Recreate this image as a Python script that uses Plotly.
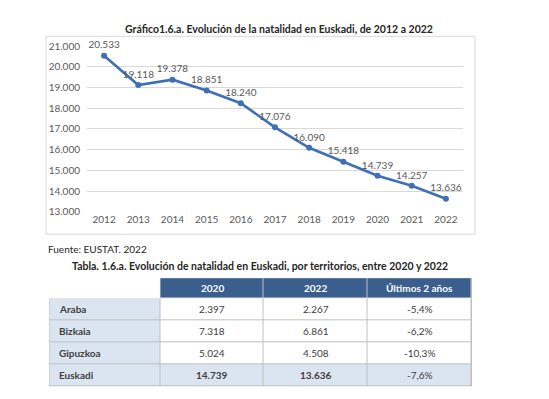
import plotly.graph_objects as go

years = [str(y) for y in range(2012, 2023)]
births = [20533, 19118, 19378, 18851, 18240, 17076, 16090, 15418, 14739, 14257, 13636]

territories = ["Araba", "Bizkaia", "Gipuzkoa", "Euskadi"]
births_2020 = [2397, 7318, 5024, 14739]
births_2022 = [2267, 6861, 4508, 13636]
change_2y = ["-5,4%", "-6,2%", "-10,3%", "-7,6%"]
table_header = ["", "2020", "2022", "Últimos 2 años"]

W, H = 549, 399
FONT = "Lato"
LINE = "#4070b4"
GRAY = "#595959"
LIGHT = "#dbe5f1"
DARK = "#3a5f8e"
BORDER = "#bfbfbf"

# table geometry (pixels)
COL_W = [111, 104, 104, 104]
HEAD_H = 21
ROW_H = 22.75
TAB_X0, TAB_Y0 = 41, 272


def px_x(p):
    return p / W


def px_y(p):
    return 1 - p / H


def fmt(v):
    return f"{v:,}".replace(",", ".")


fig = go.Figure()

fig.add_trace(go.Scatter(
    x=years, y=births, mode="lines+markers+text",
    line=dict(color=LINE, width=2.6),
    marker=dict(color=LINE, size=6),
    texttemplate="%{y:,d}", textposition="top center",
    textfont=dict(family=FONT, size=10, color=GRAY),
    cliponaxis=False, showlegend=False, hoverinfo="skip",
))

# ---- table built as a heatmap on its own axes ----
n = len(territories)
x_edges = [0]
for w in COL_W:
    x_edges.append(x_edges[-1] + w)
y_edges = [0, HEAD_H]
for _ in range(n):
    y_edges.append(y_edges[-1] + ROW_H)
tab_w, tab_h = x_edges[-1], y_edges[-1]

# colour codes: 0 white, 1 light blue, 2 dark blue
z = [[0, 2, 2, 2]]
for i in range(n):
    last = i == n - 1
    z.append([1, 1 if last else 0, 1 if last else 0, 1 if last else 0])

fig.add_trace(go.Heatmap(
    x=x_edges, y=y_edges, z=z, xaxis="x2", yaxis="y2",
    colorscale=[[0, "white"], [0.5, LIGHT], [1, DARK]], zmin=0, zmax=2,
    showscale=False, xgap=1, ygap=1, hoverinfo="skip",
))

# grey borders behind the cells (visible through the gaps)
fig.add_shape(type="rect", xref="x2", yref="y2", layer="below",
              x0=x_edges[0] - 0.5, x1=x_edges[-1] + 0.5, y0=y_edges[1], y1=y_edges[-1] + 0.5,
              fillcolor=BORDER, line=dict(width=0))
fig.add_shape(type="rect", xref="x2", yref="y2", layer="below",
              x0=x_edges[1], x1=x_edges[-1] + 0.5, y0=y_edges[0] - 0.5, y1=y_edges[1],
              fillcolor=BORDER, line=dict(width=0))


def cx(j):
    return (x_edges[j] + x_edges[j + 1]) / 2


def cy(i):
    return (y_edges[i] + y_edges[i + 1]) / 2


for j, h in enumerate(table_header):
    if h:
        fig.add_annotation(xref="x2", yref="y2", x=cx(j), y=cy(0), text=f"<b>{h}</b>",
                           showarrow=False, font=dict(family=FONT, size=10, color="white"))

cols = [[fmt(v) for v in births_2020], [fmt(v) for v in births_2022], list(change_2y)]
for i, t in enumerate(territories):
    fig.add_annotation(xref="x2", yref="y2", x=x_edges[0] + 8, y=cy(i + 1),
                       text=f"<b>{t}</b>", xanchor="left", showarrow=False,
                       font=dict(family=FONT, size=10, color="#404040"))
    for j, col in enumerate(cols):
        txt = col[i]
        if i == n - 1 and j < 2:
            txt = f"<b>{txt}</b>"
        fig.add_annotation(xref="x2", yref="y2", x=cx(j + 1), y=cy(i + 1), text=txt,
                           showarrow=False, font=dict(family=FONT, size=10, color="#404040"))

# chart frame
fig.add_shape(type="rect", xref="paper", yref="paper",
              x0=px_x(38), x1=px_x(467), y0=px_y(227), y1=px_y(23),
              line=dict(color="#d9d9d9", width=1), fillcolor="rgba(0,0,0,0)",
              layer="below")

fig.add_annotation(xref="paper", yref="paper", x=px_x(271), y=px_y(15),
                   text="<b>Gráfico1.6.a. Evolución de la natalidad en Euskadi, de 2012 a 2022</b>",
                   showarrow=False, font=dict(family=FONT, size=10.5, color="#262626"),
                   xanchor="center", yanchor="middle")
fig.add_annotation(xref="paper", yref="paper", x=px_x(38), y=px_y(242),
                   text="Fuente: EUSTAT. 2022",
                   showarrow=False, font=dict(family=FONT, size=10, color="#262626"),
                   xanchor="left", yanchor="middle")
fig.add_annotation(xref="paper", yref="paper", x=px_x(252), y=px_y(260),
                   text="<b>Tabla. 1.6.a. Evolución de natalidad en Euskadi, por territorios, entre 2020 y 2022</b>",
                   showarrow=False, font=dict(family=FONT, size=10.5, color="#262626"),
                   xanchor="center", yanchor="middle")

fig.update_layout(
    width=W, height=H, autosize=False,
    margin=dict(l=0, r=0, t=0, b=0),
    paper_bgcolor="white", plot_bgcolor="white",
    separators=",.",
    font=dict(family=FONT),
    xaxis=dict(domain=[px_x(79), px_x(455)], type="category",
               range=[-0.5, len(years) - 0.5], showgrid=False, zeroline=False,
               showline=False, ticks="", tickfont=dict(family=FONT, size=10, color=GRAY)),
    yaxis=dict(domain=[px_y(204), px_y(33)], range=[13000, 21000], dtick=1000,
               tickformat=",d", showgrid=True, gridcolor="#d9d9d9", gridwidth=1,
               zeroline=False, showline=False, ticks="", ticklabelstandoff=6,
               tickfont=dict(family=FONT, size=10, color=GRAY)),
    xaxis2=dict(domain=[px_x(TAB_X0), px_x(TAB_X0 + tab_w)], range=[-0.5, tab_w + 0.5],
                visible=False, fixedrange=True),
    yaxis2=dict(domain=[px_y(TAB_Y0 + tab_h), px_y(TAB_Y0)], range=[tab_h + 0.5, -0.5],
                visible=False, fixedrange=True, anchor="x2"),
)

fig.write_html("out.html")
